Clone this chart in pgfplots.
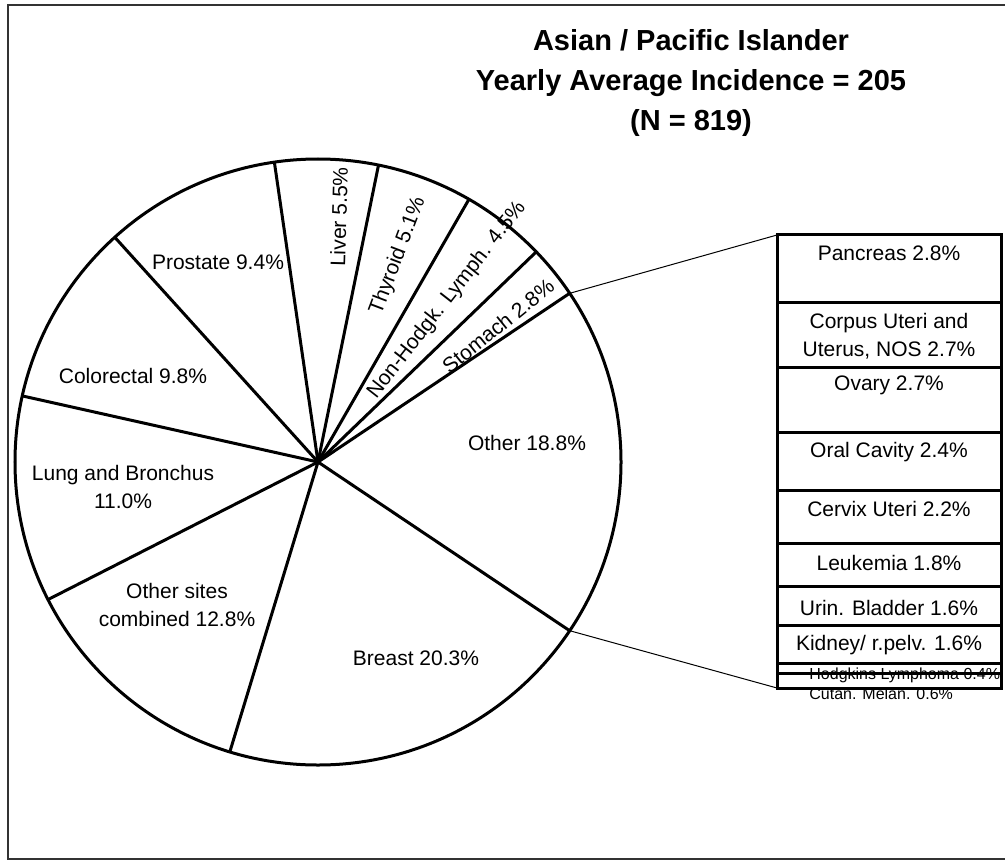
\documentclass[border=0pt]{standalone}
\usepackage{pgfplots}
\pgfplotsset{compat=1.18}
\usepackage{fontspec}
\setmainfont{Liberation Sans}
\begin{document}
\begin{tikzpicture}
\begin{scope}[x=0.5pt,y=-0.5pt]
\path[use as bounding box] (0,0) rectangle (1005,861);
\draw[line width=1pt, black!80] (1010,5) -- (8,5) -- (8,859) -- (1010,859);
\end{scope}

% ---------------- pie ----------------
\begin{axis}[at={(159pt,-231pt)}, anchor=center, scale only axis,
  width=303pt, height=303pt, xmin=-1, xmax=1, ymin=-1, ymax=1,
  hide axis, clip=false]
\draw[line width=1.5pt] (axis cs:0,0) circle[radius=151.5pt];
% slice boundaries (angle in degrees, radius 1)
\addplot[line width=1.5pt, data cs=polar] coordinates {(0,0) (33.84,1)};
\addplot[line width=1.5pt, data cs=polar] coordinates {(0,0) (43.92,1)};
\addplot[line width=1.5pt, data cs=polar] coordinates {(0,0) (60.12,1)};
\addplot[line width=1.5pt, data cs=polar] coordinates {(0,0) (78.48,1)};
\addplot[line width=1.5pt, data cs=polar] coordinates {(0,0) (98.28,1)};
\addplot[line width=1.5pt, data cs=polar] coordinates {(0,0) (132.12,1)};
\addplot[line width=1.5pt, data cs=polar] coordinates {(0,0) (167.40,1)};
\addplot[line width=1.5pt, data cs=polar] coordinates {(0,0) (207.00,1)};
\addplot[line width=1.5pt, data cs=polar] coordinates {(0,0) (253.08,1)};
\addplot[line width=1.5pt, data cs=polar] coordinates {(0,0) (326.16,1)};
\end{axis}

% ---------------- bar of pie ----------------
\begin{axis}[at={(388.5pt,-344pt)}, anchor=south west, scale only axis,
  width=112pt, height=226.5pt, xmin=-0.5, xmax=0.5, ymin=0, ymax=18.8,
  hide axis, clip=false, ybar stacked, bar width=112pt]
\addplot[fill=white, draw=black, line width=1.5pt] coordinates {(0,0.6)};  % Cutan. Melan.
\addplot[fill=white, draw=black, line width=1.5pt] coordinates {(0,0.4)};  % Hodgkins
\addplot[fill=white, draw=black, line width=1.5pt] coordinates {(0,1.6)};  % Kidney
\addplot[fill=white, draw=black, line width=1.5pt] coordinates {(0,1.6)};  % Urin. Bladder
\addplot[fill=white, draw=black, line width=1.5pt] coordinates {(0,1.8)};  % Leukemia
\addplot[fill=white, draw=black, line width=1.5pt] coordinates {(0,2.2)};  % Cervix
\addplot[fill=white, draw=black, line width=1.5pt] coordinates {(0,2.4)};  % Oral
\addplot[fill=white, draw=black, line width=1.5pt] coordinates {(0,2.7)};  % Ovary
\addplot[fill=white, draw=black, line width=1.5pt] coordinates {(0,2.7)};  % Corpus
\addplot[fill=white, draw=black, line width=1.5pt] coordinates {(0,2.8)};  % Pancreas
\end{axis}

\begin{scope}[x=0.5pt,y=-0.5pt, every node/.style={inner sep=0pt, font=\fontsize{10.5}{14.25}\selectfont}]
% connectors
\draw[line width=0.5pt] (569.7,293.3) -- (777,235);
\draw[line width=0.5pt] (569.7,630.7) -- (777,688);
% title
\node[anchor=base, font=\bfseries\fontsize{14.5}{20}\selectfont] at (691,51) {Asian / Pacific Islander};
\node[anchor=base, font=\bfseries\fontsize{14.5}{20}\selectfont] at (691,91) {Yearly Average Incidence = 205};
\node[anchor=base, font=\bfseries\fontsize{14.5}{20}\selectfont] at (691,131) {(N = 819)};
% pie labels
\node at (218,262) {Prostate 9.4\%};
\node at (133,376) {Colorectal 9.8\%};
\node[align=center] at (123,487) {Lung and Bronchus\\11.0\%};
\node[align=center] at (177,605) {Other sites\\combined 12.8\%};
\node at (416,658) {Breast 20.3\%};
\node at (527,443) {Other 18.8\%};
\node[rotate=88.38] at (339,217) {Liver 5.5\%};
\node[rotate=69.3] at (398,256) {Thyroid 5.1\%};
\node[rotate=52.02] at (447,300) {Non-Hodgk. Lymph. 4.5\%};
\node[rotate=38.88] at (498,326) {Stomach 2.8\%};
% bar labels
\node at (889,253) {Pancreas 2.8\%};
\node[align=center] at (889,336) {Corpus Uteri and\\Uterus, NOS 2.7\%};
\node at (889,385) {Ovary 2.7\%};
\node at (889,452) {Oral Cavity 2.4\%};
\node at (889,509) {Cervix Uteri 2.2\%};
\node at (889,563) {Leukemia 1.8\%};
\node at (889,608) {Urin. Bladder 1.6\%};
\node at (889,645) {Kidney/ r.pelv. 1.6\%};
\node[anchor=west, font=\fontsize{8}{9}\selectfont] at (809,675) {Hodgkins Lymphoma 0.4\%};
\node[anchor=west, font=\fontsize{8}{9}\selectfont] at (809,694) {Cutan. Melan. 0.6\%};
\end{scope}
\end{tikzpicture}
\end{document}
